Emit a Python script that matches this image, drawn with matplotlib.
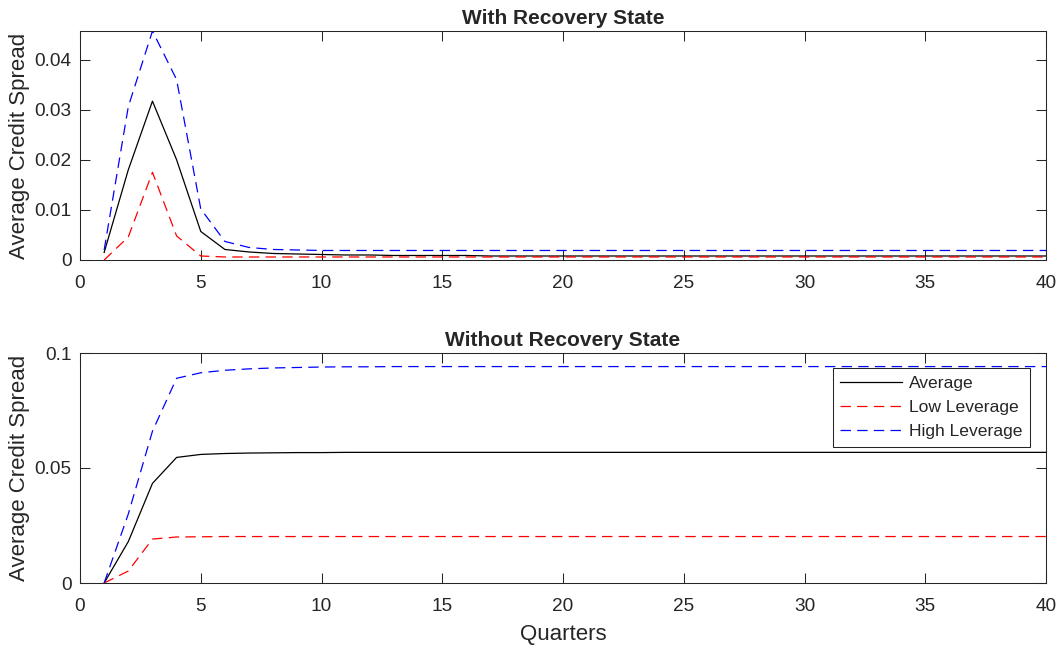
import numpy as np
import matplotlib.pyplot as plt

plt.rcParams['font.family'] = ['Liberation Sans', 'DejaVu Sans']
plt.rcParams['lines.scale_dashes'] = False
plt.rcParams['text.color'] = '#262626'
plt.rcParams['axes.labelcolor'] = '#262626'

quarters = np.arange(1, 41)

# with recovery state
rec_avg = [0.0015, 0.0180, 0.0317, 0.0200, 0.0057, 0.0021, 0.0016, 0.0013, 0.0012, 0.0011,
           0.0010, 0.0010, 0.0009, 0.0009, 0.0009, 0.0009, 0.0008, 0.0008, 0.0008, 0.0008,
           0.0008, 0.0008, 0.0008, 0.0008, 0.0008, 0.0008, 0.0008, 0.0008, 0.0008, 0.0008,
           0.0008, 0.0008, 0.0008, 0.0008, 0.0008, 0.0008, 0.0008, 0.0008, 0.0008, 0.0008]
rec_low = [0.0000, 0.0046, 0.0175, 0.0048, 0.0008, 0.0006, 0.0006, 0.0006, 0.0006, 0.0006,
           0.0006, 0.0006, 0.0006, 0.0006, 0.0006, 0.0006, 0.0006, 0.0006, 0.0006, 0.0006,
           0.0006, 0.0006, 0.0006, 0.0006, 0.0006, 0.0006, 0.0006, 0.0006, 0.0006, 0.0006,
           0.0006, 0.0006, 0.0006, 0.0006, 0.0006, 0.0006, 0.0006, 0.0006, 0.0006, 0.0006]
rec_high = [0.0020, 0.0306, 0.0457, 0.0360, 0.0102, 0.0037, 0.0025, 0.0021, 0.0020, 0.0019,
            0.0019, 0.0019, 0.0019, 0.0019, 0.0019, 0.0019, 0.0019, 0.0019, 0.0019, 0.0019,
            0.0019, 0.0019, 0.0019, 0.0019, 0.0019, 0.0019, 0.0019, 0.0019, 0.0019, 0.0019,
            0.0019, 0.0019, 0.0019, 0.0019, 0.0019, 0.0019, 0.0019, 0.0019, 0.0019, 0.0019]

# without recovery state
norec_avg = [0.0000, 0.0180, 0.0433, 0.0546, 0.0559, 0.0563, 0.0565, 0.0566, 0.0567, 0.0567,
             0.0568, 0.0568, 0.0568, 0.0568, 0.0568, 0.0568, 0.0568, 0.0568, 0.0568, 0.0568,
             0.0568, 0.0568, 0.0568, 0.0568, 0.0568, 0.0568, 0.0568, 0.0568, 0.0568, 0.0568,
             0.0568, 0.0568, 0.0568, 0.0568, 0.0568, 0.0568, 0.0568, 0.0568, 0.0568, 0.0568]
norec_low = [0.0000, 0.0052, 0.0191, 0.0200, 0.0201, 0.0202, 0.0202, 0.0202, 0.0202, 0.0202,
             0.0202, 0.0202, 0.0202, 0.0202, 0.0202, 0.0202, 0.0202, 0.0202, 0.0202, 0.0202,
             0.0202, 0.0202, 0.0202, 0.0202, 0.0202, 0.0202, 0.0202, 0.0202, 0.0202, 0.0202,
             0.0202, 0.0202, 0.0202, 0.0202, 0.0202, 0.0202, 0.0202, 0.0202, 0.0202, 0.0202]
norec_high = [0.0000, 0.0300, 0.0660, 0.0890, 0.0914, 0.0925, 0.0931, 0.0935, 0.0937, 0.0939,
              0.0940, 0.0940, 0.0941, 0.0941, 0.0941, 0.0941, 0.0941, 0.0941, 0.0941, 0.0941,
              0.0941, 0.0941, 0.0941, 0.0941, 0.0941, 0.0941, 0.0941, 0.0941, 0.0941, 0.0941,
              0.0941, 0.0941, 0.0941, 0.0941, 0.0941, 0.0941, 0.0941, 0.0941, 0.0941, 0.0941]

xticks = list(range(0, 41, 5))
dash = (7.5, 4.5)


def style_axes(ax):
    for s in ax.spines.values():
        s.set_color('#262626')
        s.set_linewidth(0.75)
    ax.tick_params(direction='in', length=7, width=0.75, color='#262626',
                   labelcolor='#262626', top=True, right=True, labelsize=13.7)
    ax.tick_params(axis='x', pad=11)
    ax.tick_params(axis='y', pad=6)
    ax.set_xlim(0, 40)
    ax.set_xticks(xticks)


fig = plt.figure(figsize=(10.63, 6.5), dpi=100)
ax1 = fig.add_axes([80 / 1063, 1 - 260 / 650, 966 / 1063, 229 / 650])
ax2 = fig.add_axes([80 / 1063, 1 - 583 / 650, 966 / 1063, 230 / 650])

ax1.plot(quarters, rec_avg, color='black', lw=0.9)
ax1.plot(quarters, rec_low, color='red', lw=0.9, ls='--', dashes=dash)
ax1.plot(quarters, rec_high, color='blue', lw=0.9, ls='--', dashes=dash)
style_axes(ax1)
ax1.set_ylim(0, 0.0457)
ax1.set_yticks([0, 0.01, 0.02, 0.03, 0.04])
ax1.set_yticklabels(['0', '0.01', '0.02', '0.03', '0.04'])
ax1.set_title('With Recovery State', fontsize=15, fontweight='bold', pad=5)
ax1.set_ylabel('Average Credit Spread', fontsize=16, labelpad=3)

ax2.plot(quarters, norec_avg, color='black', lw=0.9, label='Average')
ax2.plot(quarters, norec_low, color='red', lw=0.9, ls='--', dashes=dash, label='Low Leverage')
ax2.plot(quarters, norec_high, color='blue', lw=0.9, ls='--', dashes=dash, label='High Leverage')
style_axes(ax2)
ax2.set_ylim(0, 0.1)
ax2.set_yticks([0, 0.05, 0.1])
ax2.set_yticklabels(['0', '0.05', '0.1'])
ax2.set_title('Without Recovery State', fontsize=15, fontweight='bold', pad=5)
ax2.set_ylabel('Average Credit Spread', fontsize=16, labelpad=3)
ax2.set_xlabel('Quarters', fontsize=16, labelpad=6)

leg = ax2.legend(loc='upper right', bbox_to_anchor=(1030 / 1063, 1 - 368 / 650),
                 bbox_transform=fig.transFigure, fontsize=12.6, fancybox=False,
                 edgecolor='#262626', framealpha=1, borderaxespad=0,
                 handlelength=3.5, handletextpad=0.4, labelspacing=0.5,
                 borderpad=0.45)
leg.get_frame().set_linewidth(0.75)

fig.savefig('out.png', dpi=100)
